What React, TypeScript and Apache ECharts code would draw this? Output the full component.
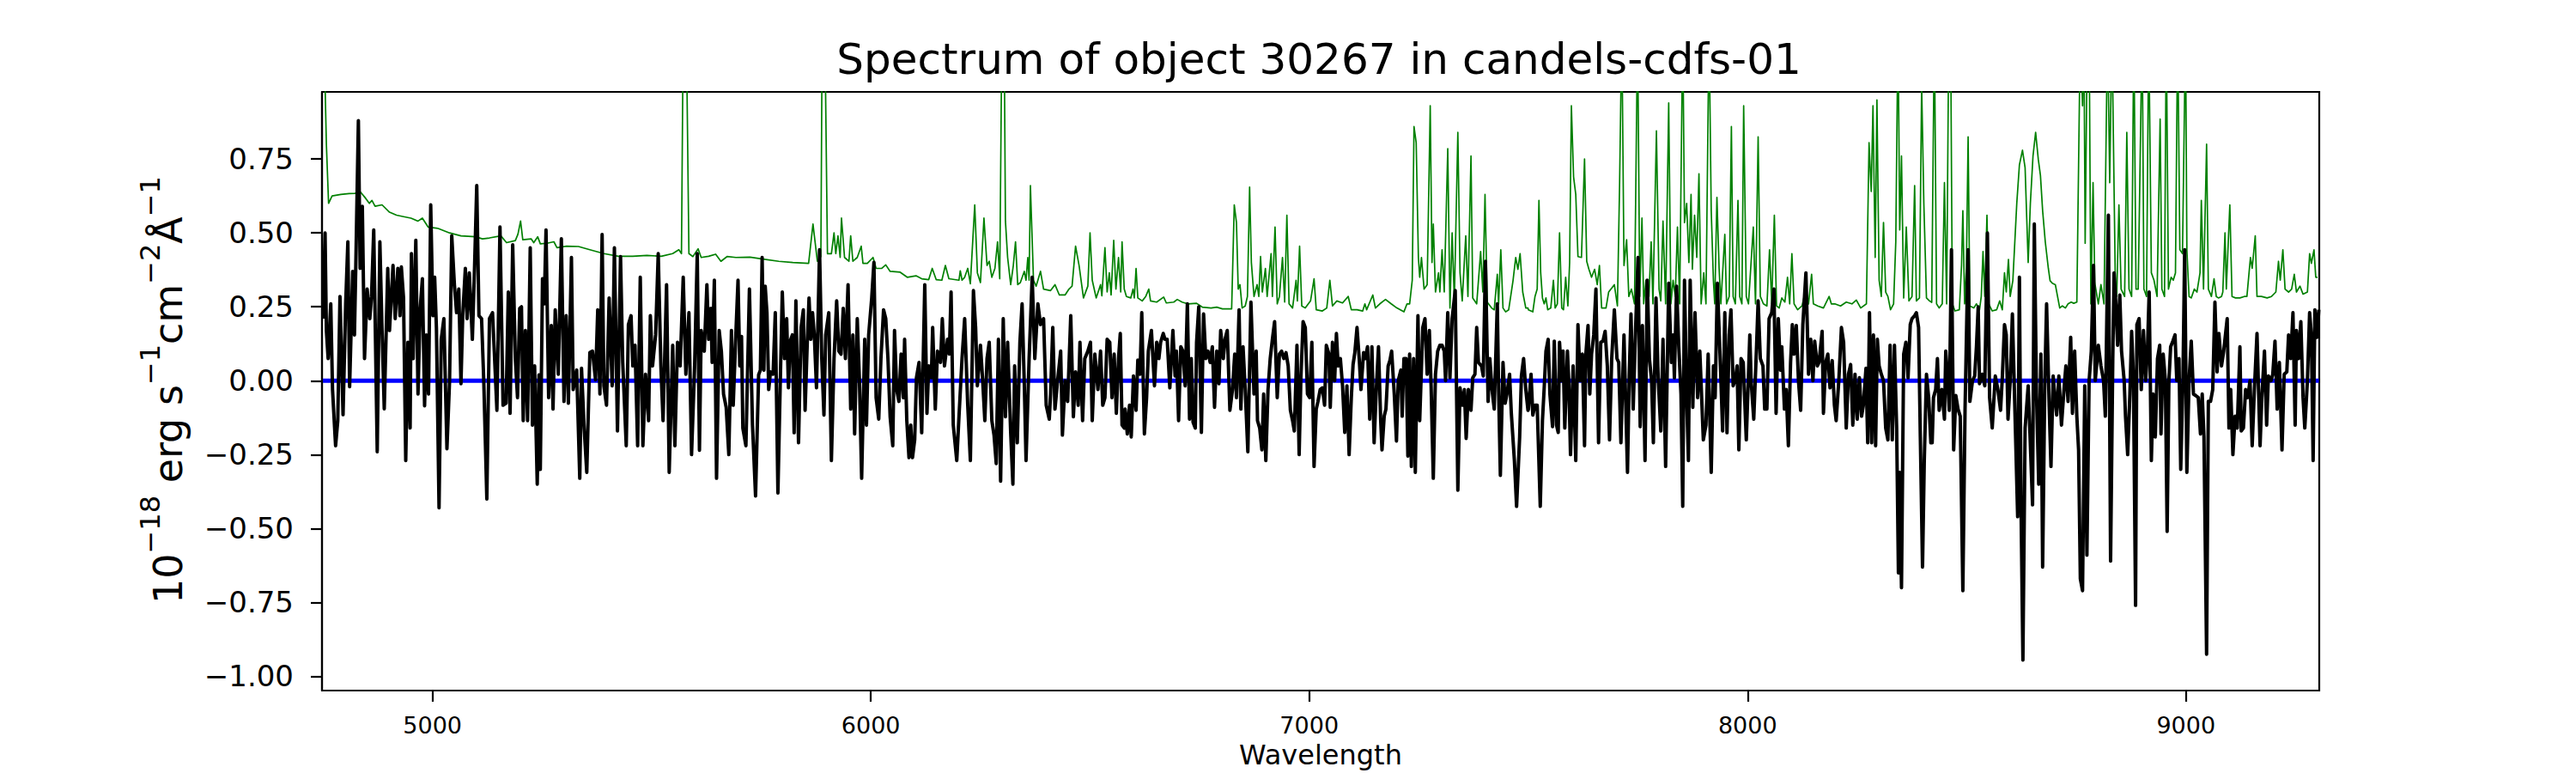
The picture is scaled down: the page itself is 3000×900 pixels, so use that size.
import React, { useEffect, useRef } from "react";
import * as echarts from "echarts";

const FONT = '"DejaVu Sans", "Liberation Sans", sans-serif';

const TITLE = "Spectrum of object 30267 in candels-cdfs-01";
const X_LABEL = "Wavelength";
const X_TICKS = [5000, 6000, 7000, 8000, 9000];
const Y_TICKS = [-1.0, -0.75, -0.5, -0.25, 0, 0.25, 0.5, 0.75];
const X_RANGE = [4748, 9304];
const Y_RANGE = [-1.048, 0.977];

// ---- flux (black), five wavelength chunks ----
const wave1 = [4750,4755,4758,4762,4768,4772,4779,4784,4789,4796,4802,4807,4811,4818,4822,4825,4831,4835,4840,4845,4851,4857,4861,4866,4874,4880,4885,4890,4898,4902,4910,4915,4921,4926,4929,4934,4939,4944,4949,4952,4956,4962,4967,4972,4977,4982,4986,4991,4996,5001,5005,5009,5015,5020,5026,5033,5039,5044,5050,5055,5060,5065,5069,5075,5079,5084,5091,5096,5101,5106,5112,5117,5124,5130,5137,5141,5147,5154,5161,5168,5173,5177,5183,5189,5194,5199,5203,5207,5212,5217,5223,5228,5233,5239,5243,5246,5251,5255,5259,5265,5271,5275,5280,5287,5294,5300,5305,5310,5317,5321,5329,5336,5340,5346,5352,5359,5365,5372,5377,5382,5387,5391,5397,5403,5410,5415,5422,5429,5434,5442,5447,5453,5457,5462,5468,5474,5480,5486,5493,5497,5502,5509,5515,5521,5526,5534,5540,5548,5553,5559,5565,5572,5578,5585,5591,5598,5604,5609,5613,5620,5626,5630,5635,5638,5643,5648,5654];
const flux1 = [0.21,0.50,0.17,0.075,0.26,-0.03,-0.22,-0.135,0.285,-0.115,0.26,0.47,-0.02,0.37,0.155,0.38,0.88,0.38,0.59,0.075,0.31,0.21,0.285,0.51,-0.24,0.47,0.17,-0.095,0.38,0.17,0.39,0.21,0.38,0.22,0.385,0.28,-0.27,0.13,-0.16,0.43,0.075,0.475,-0.045,0.245,0.345,-0.085,0.155,-0.045,0.595,0.22,0.35,0.18,-0.43,0.14,0.21,-0.23,0,0.49,0.325,0.23,0.31,-0.01,0.22,0.38,0.21,0.365,0.14,0.385,0.66,0.22,0.21,0,-0.40,0.21,0.23,0.10,-0.10,0.52,-0.083,-0.076,0.30,-0.11,0.46,0.075,-0.057,0.245,0.25,-0.135,0.17,-0.135,0.45,-0.15,0.05,-0.35,0.02,-0.30,0.345,0.26,0.51,-0.057,0.187,-0.096,0.24,0.022,0.48,-0.07,0.22,-0.076,0.417,-0.03,0.036,-0.33,0.042,-0.16,-0.31,0.095,0.10,0.003,0.24,-0.045,0.495,-0.017,-0.083,0.28,-0.017,0.45,-0.17,0.42,0.062,-0.22,0.19,0.22,0.05,0.12,-0.22,0.35,-0.22,0.022,-0.135,0.22,0.05,0.155,0.43,0.05,-0.135,0.325,-0.31,0.12,-0.22,0.13,0.05,0.35,0.022,0.23,-0.25,0.05,0.43,-0.235,0.17,0.10,0.325,0.14,0.245,0.062,0.34,-0.33,0.17];

const wave2 = [5659,5664,5670,5676,5682,5686,5692,5697,5701,5705,5708,5715,5723,5730,5737,5744,5748,5752,5756,5759,5763,5767,5771,5777,5782,5788,5793,5798,5803,5808,5812,5816,5821,5825,5829,5835,5841,5846,5850,5855,5859,5863,5867,5871,5876,5883,5888,5893,5897,5904,5910,5916,5922,5927,5932,5937,5942,5948,5954,5959,5963,5969,5974,5979,5986,5990,5995,6002,6007,6012,6018,6023,6029,6034,6039,6044,6050,6054,6059,6064,6069,6074,6077,6082,6087,6091,6095,6100,6104,6110,6116,6123,6128,6132,6138,6141,6147,6152,6159,6163,6168,6175,6179,6183,6188,6196,6201,6208,6214,6221,6227,6234,6239,6243,6250,6255,6260,6265,6270,6276,6281,6286,6291,6296,6302,6307,6312,6319,6324,6328,6334,6340,6345,6350,6354,6361,6368,6374,6381,6387,6394,6400,6407,6410,6415,6420,6426,6433,6437,6443,6449,6456,6462,6467,6473,6477,6483,6488,6495,6501,6505,6511,6518,6524,6529,6534,6539,6545,6550,6555,6560,6565,6569,6573,6578];
const flux2 = [0.10,-0.045,-0.09,-0.25,0.17,-0.083,0.155,0.34,0.05,0.15,-0.16,-0.22,0.31,-0.15,-0.39,0.02,0.036,0.417,0.036,0.32,0.23,-0.03,0.03,0.022,0.23,-0.38,-0.03,0.30,0.075,0.21,-0.024,0.134,0.155,-0.176,0.27,-0.21,0.18,0.24,-0.10,0.13,0.28,0.14,0.23,0.155,-0.024,0.443,0.075,-0.116,0.155,0.23,-0.27,0.075,0.27,0.10,0.09,0.245,0.075,0.325,-0.096,0.155,-0.18,0.21,0,-0.33,0.14,-0.15,0.155,0.28,0.40,-0.057,-0.13,0.075,0.24,0.21,0.075,-0.122,-0.22,0.17,-0.03,-0.07,0.09,-0.057,0.14,-0.135,-0.26,-0.15,-0.26,-0.20,0.01,0.062,-0.176,0.325,-0.11,0.05,0.01,0.18,-0.096,0.10,0.062,0.21,0.05,0.14,0.09,0.30,-0.15,-0.27,-0.122,0.075,0.21,-0.083,-0.27,0.305,0.18,-0.017,0.12,0.003,-0.135,0.075,0.13,-0.135,-0.184,-0.28,0.14,-0.34,0.21,-0.122,0.13,-0.176,-0.35,0.05,-0.21,0.13,0.26,-0.01,-0.27,0.075,0.35,0.075,0.26,0.19,0.21,-0.083,-0.13,-0.045,0.18,-0.096,0,0.10,-0.184,0,-0.07,0.22,-0.122,0.03,-0.083,0.13,-0.135,0.075,0.10,0.13,-0.135,0.09,-0.03,0.10,-0.083,-0.057,0.14,0.13,-0.057,0.09,-0.11,0.075,0.16,-0.15,-0.16];

const wave3 = [6580,6585,6590,6594,6599,6605,6609,6614,6618,6624,6629,6633,6640,6647,6652,6657,6661,6667,6671,6676,6682,6689,6694,6697,6702,6707,6712,6717,6722,6727,6731,6735,6740,6743,6748,6754,6759,6764,6769,6774,6779,6784,6789,6794,6798,6804,6808,6813,6819,6825,6830,6834,6840,6844,6849,6854,6860,6867,6874,6879,6882,6887,6892,6896,6901,6906,6911,6916,6921,6927,6932,6937,6942,6947,6952,6957,6962,6966,6972,6977,6981,6986,6991,6996,7001,7006,7011,7016,7020,7025,7030,7035,7039,7045,7048,7053,7058,7062,7066,7071,7076,7081,7086,7091,7096,7100,7104,7109,7114,7118,7124,7128,7133,7138,7143,7148,7153,7158,7163,7166,7171,7175,7180,7184,7188,7194,7199,7203,7209,7212,7216,7221,7225,7229,7233,7238,7242,7248,7252,7259,7264,7269,7274,7278,7283,7288,7293,7298,7303,7308,7311,7316,7321,7326,7333,7339,7344,7349,7354,7358,7363,7369,7373,7378,7382,7386,7393,7397,7402,7408,7412,7417,7422,7429,7432,7436,7442,7447,7451,7457,7461,7468,7473,7480,7484,7489,7494,7499];
const flux3 = [-0.096,-0.18,-0.083,-0.19,0.016,-0.10,0.07,0.022,0.23,-0.18,-0.057,0.10,0.17,-0.017,0.13,0.075,0.13,0.16,0.14,0.14,-0.024,0.17,0.016,0.10,-0.135,0.115,0.10,-0.017,0.26,-0.13,0.075,-0.14,-0.16,0.13,0.25,-0.175,0.226,0.075,0.10,0.062,0.115,-0.09,0.10,-0.01,0.17,0.075,0.14,0.17,-0.10,-0.03,0.09,-0.057,0.24,-0.096,0.115,-0.03,-0.24,0.266,-0.045,0.10,-0.135,-0.16,-0.234,-0.045,-0.27,-0.03,0.075,0.14,0.20,-0.057,0.09,0.10,0.075,0.095,0.05,-0.10,-0.135,-0.17,0.12,-0.25,0.01,0.20,0.18,-0.045,-0.057,0.13,-0.29,-0.096,-0.07,-0.03,-0.024,-0.083,0.12,0.09,-0.09,0.13,0,0.16,0.05,0.075,-0.017,-0.175,-0.017,-0.25,-0.057,0.055,0.095,0.18,0.075,-0.03,0.095,0.075,0.115,-0.13,0.115,-0.21,-0.03,0.115,-0.135,-0.234,-0.12,-0.096,0.05,0.068,0.10,-0.045,-0.204,0,0.036,-0.12,0.075,0.075,-0.255,0.09,-0.29,0.075,-0.31,0.22,-0.135,0.18,0.21,0.022,0.17,-0.017,-0.33,0.022,0.10,0.12,0.12,0.10,0,0.23,0.01,0.21,0.305,-0.37,-0.024,-0.083,-0.03,-0.195,-0.03,-0.10,0.01,0.022,0.18,0.062,0.05,0.016,0.404,-0.07,0.075,-0.03,-0.096,0.26,-0.03,-0.32,0.062,-0.076,-0.045,0.022,-0.11,-0.27,-0.425,-0.19,0.016,0.075,-0.03,-0.10];

const wave4 = [7500,7506,7510,7515,7520,7527,7532,7536,7540,7545,7549,7555,7559,7564,7568,7571,7576,7579,7583,7589,7592,7596,7602,7608,7613,7618,7623,7628,7631,7636,7640,7644,7649,7654,7660,7665,7670,7675,7680,7685,7690,7696,7702,7706,7711,7718,7726,7730,7734,7739,7744,7750,7755,7760,7766,7771,7776,7781,7785,7791,7796,7802,7807,7813,7820,7826,7830,7833,7838,7843,7848,7852,7856,7861,7865,7869,7875,7880,7886,7891,7899,7905,7910,7917,7922,7926,7931,7938,7943,7948,7953,7958,7962,7967,7972,7976,7980,7985,7990,7997,8005,8008,8014,8020,8024,8029,8035,8039,8044,8049,8055,8060,8065,8070,8075,8078,8084,8088,8093,8098,8102,8106,8111,8116,8121,8126,8133,8139,8144,8149,8153,8159,8163,8170,8173,8178,8183,8188,8193,8198,8202,8208,8214,8219,8225,8230,8235,8240,8245,8250,8255,8260,8264,8270,8274,8278,8283,8287,8292,8296,8300,8305,8310,8315,8320,8325,8330,8335,8340,8344,8347,8351,8356,8361,8366,8371,8375,8381,8385,8390,8394,8399,8403,8408,8413,8418];
const flux4 = [-0.096,0.022,-0.116,-0.083,-0.083,-0.425,-0.135,-0.024,0.10,0.14,-0.045,-0.155,0.134,-0.15,-0.175,0.13,0,0.10,-0.16,0.10,0,-0.25,0.05,-0.27,0.19,0,0.09,-0.22,0.09,0.187,-0.045,0.09,0.155,0.31,-0.21,0.13,0.134,0.167,0.05,-0.20,0.075,0.24,0.075,0.062,-0.21,0.155,-0.31,0.022,0.226,-0.096,0.155,0.417,-0.155,0.187,-0.27,0.34,0.075,0,-0.21,0.28,0.01,-0.17,0.14,-0.29,0.33,0.062,0.155,0.01,0.32,0.115,-0.045,-0.425,0.34,-0.057,-0.27,0.34,-0.09,0.23,-0.057,0.10,-0.20,-0.15,0.09,-0.31,0.05,-0.057,0.33,0.05,-0.17,0.23,-0.176,0.155,0.24,-0.017,0.003,0.05,-0.234,0.075,0.062,-0.20,0.155,0,-0.13,0.10,0.27,0.075,0.05,-0.096,-0.096,0.21,0.23,0.31,-0.11,0.21,0.036,0.115,-0.096,-0.03,-0.22,0.062,0.19,0.09,0.187,0,-0.10,0.19,0.365,0.022,0.14,0,0.134,0.05,0.062,0.167,-0.11,0.062,0.09,-0.024,0.068,-0.083,-0.135,0,0.18,0.13,-0.16,0.022,0.055,-0.15,0.022,-0.13,0.01,-0.12,-0.083,0.042,-0.21,0.23,-0.21,0.155,-0.22,0.14,0.05,0.022,0,-0.16,-0.20,0.12,-0.20,0.12,-0.16,-0.65,-0.31,-0.70,0.09,0.13,0.01,0.19,0.21,0.22,0.23,0.18,-0.19,-0.63,-0.27,0.022,-0.057,-0.21];

const wave5 = [8421,8424,8429,8433,8437,8443,8449,8452,8457,8460,8465,8470,8475,8480,8485,8491,8496,8503,8507,8513,8518,8522,8526,8529,8535,8541,8547,8552,8558,8565,8571,8577,8581,8586,8590,8594,8599,8604,8610,8616,8620,8624,8628,8633,8640,8644,8650,8654,8659,8664,8669,8673,8678,8682,8688,8692,8697,8701,8705,8710,8716,8722,8726,8731,8737,8741,8746,8751,8755,8759,8764,8769,8774,8779,8784,8789,8793,8800,8806,8812,8816,8823,8828,8833,8836,8840,8844,8849,8853,8859,8862,8867,8872,8876,8880,8885,8888,8893,8898,8903,8908,8912,8916,8921,8925,8930,8935,8940,8943,8948,8953,8957,8961,8965,8970,8975,8979,8984,8988,8993,8997,9002,9007,9012,9017,9022,9028,9033,9037,9041,9047,9051,9056,9061,9066,9071,9075,9081,9086,9094,9098,9102,9107,9112,9117,9123,9126,9131,9136,9141,9146,9151,9156,9162,9169,9173,9179,9184,9188,9194,9198,9203,9208,9213,9219,9224,9230,9234,9239,9244,9249,9252,9257,9262,9267,9271,9277,9282,9286,9290,9294,9299,9303];
const flux5 = [-0.21,-0.057,-0.03,0.075,-0.10,-0.03,-0.13,0.10,-0.017,-0.10,0.443,-0.234,-0.05,-0.096,-0.12,-0.71,-0.096,0.443,-0.07,0,0.016,0.115,0.25,-0.01,0.022,-0.017,0.50,-0.057,-0.16,0.016,-0.03,-0.10,0.01,0.19,0.155,-0.13,0,0.226,-0.116,-0.46,0.35,-0.46,-0.945,-0.16,-0.017,-0.176,-0.42,0.53,-0.045,-0.35,0.09,-0.63,0,0.26,-0.09,-0.29,0.016,-0.057,-0.116,0.016,-0.15,-0.024,0.05,-0.07,0.147,-0.11,0.10,-0.12,-0.234,-0.67,-0.71,-0.017,-0.59,0,0.10,0.39,0,0.12,0.05,0,-0.12,0.56,-0.61,0.075,0.365,0.26,0.12,0.29,0.10,0,-0.12,-0.25,-0.045,0.167,0.022,-0.76,0.19,0.21,-0.03,0.17,0,0.10,0.30,-0.27,-0.045,-0.19,0.075,0.12,-0.18,0.09,0,-0.51,0,0.115,0.134,0.155,0,0.075,-0.30,0,0.443,-0.31,0,0.134,-0.045,-0.05,-0.057,-0.18,-0.045,-0.19,-0.925,-0.07,-0.07,-0.03,0.266,0.03,0.16,0.05,0.10,0.21,-0.16,-0.03,-0.25,-0.12,-0.16,0.115,-0.17,-0.16,-0.03,-0.057,0,-0.22,-0.03,0.16,-0.22,-0.057,0.10,-0.15,0.016,0,0.022,0.134,-0.096,0.062,-0.234,0.022,0.03,0.155,0.075,0.23,-0.15,0.17,0.075,0.20,-0.057,-0.16,0,0.23,0.155,-0.27,0.24,0.147,0.24];

// ---- noise / error spectrum (green), [wavelength, value] ----
const noise1: [number, number][] = [[4750,1.10],[4755,1.0],[4758,0.80],[4763,0.60],[4771,0.625],[4791,0.63],[4810,0.633],[4823,0.634],[4836,0.638],[4846,0.62],[4856,0.60],[4862,0.61],[4869,0.59],[4885,0.595],[4902,0.57],[4918,0.56],[4934,0.555],[4951,0.55],[4967,0.54],[4977,0.55],[4990,0.52],[5013,0.515],[5039,0.50],[5065,0.49],[5098,0.487],[5114,0.48],[5130,0.483],[5156,0.49],[5169,0.467],[5189,0.474],[5195,0.496],[5201,0.54],[5206,0.477],[5225,0.48],[5231,0.467],[5240,0.487],[5246,0.463],[5261,0.465],[5277,0.47],[5284,0.45],[5306,0.455],[5333,0.454],[5359,0.443],[5391,0.43],[5424,0.421],[5457,0.421],[5489,0.424],[5522,0.421],[5548,0.43],[5562,0.443],[5568,0.43],[5572,1.2],[5579,1.2],[5585,0.43],[5594,0.42],[5606,0.446],[5613,0.417],[5630,0.421],[5646,0.428],[5658,0.404]];
const noise2: [number, number][] = [[5672,0.42],[5692,0.417],[5724,0.418],[5757,0.411],[5790,0.404],[5822,0.40],[5858,0.397],[5868,0.53],[5878,0.404],[5886,0.42],[5889,1.2],[5895,1.2],[5901,0.43],[5910,0.43],[5916,0.50],[5920,0.43],[5925,0.49],[5930,0.417],[5933,0.55],[5940,0.417],[5950,0.404],[5954,0.49],[5959,0.404],[5969,0.417],[5978,0.455],[5982,0.397],[5992,0.397],[6005,0.417],[6012,0.38],[6025,0.38],[6034,0.392],[6044,0.37],[6067,0.367],[6083,0.35],[6103,0.355],[6116,0.345],[6132,0.342],[6140,0.38],[6149,0.342],[6162,0.34],[6170,0.39],[6178,0.345],[6201,0.34],[6204,0.372],[6208,0.34],[6214,0.35],[6221,0.38],[6227,0.328],[6237,0.595],[6243,0.365],[6250,0.332],[6258,0.55],[6265,0.39],[6270,0.404],[6276,0.35],[6283,0.38],[6289,0.47],[6294,0.345],[6299,1.2],[6304,1.2],[6307,0.54],[6312,0.417],[6319,0.325],[6325,0.39],[6330,0.47],[6335,0.325],[6341,0.332],[6350,0.37],[6354,0.34],[6358,0.417],[6361,0.34],[6364,0.66],[6371,0.34],[6377,0.32],[6387,0.37],[6394,0.31],[6410,0.305],[6420,0.325],[6430,0.29],[6443,0.29],[6452,0.31],[6459,0.32],[6467,0.455],[6475,0.39],[6485,0.28],[6495,0.32],[6500,0.50],[6505,0.34],[6514,0.28],[6524,0.325],[6527,0.287],[6534,0.45],[6539,0.30],[6544,0.365],[6548,0.29],[6554,0.475],[6559,0.31],[6565,0.417],[6570,0.30],[6573,0.47],[6578,0.31]];
const noise3: [number, number][] = [[6583,0.285],[6593,0.28],[6598,0.31],[6601,0.28],[6605,0.38],[6609,0.28],[6619,0.27],[6627,0.285],[6634,0.31],[6638,0.27],[6652,0.266],[6668,0.283],[6674,0.263],[6691,0.266],[6699,0.275],[6710,0.266],[6723,0.26],[6743,0.262],[6756,0.249],[6776,0.246],[6789,0.249],[6802,0.243],[6823,0.243],[6829,0.595],[6834,0.535],[6838,0.31],[6842,0.325],[6847,0.246],[6854,0.253],[6859,0.285],[6864,0.655],[6868,0.40],[6874,0.285],[6881,0.325],[6885,0.285],[6889,0.42],[6893,0.30],[6900,0.38],[6904,0.285],[6913,0.43],[6916,0.285],[6922,0.52],[6927,0.26],[6932,0.285],[6939,0.417],[6944,0.266],[6949,0.56],[6954,0.26],[6962,0.246],[6970,0.34],[6973,0.27],[6978,0.455],[6983,0.253],[6991,0.246],[7003,0.27],[7011,0.345],[7016,0.24],[7030,0.236],[7040,0.246],[7047,0.34],[7053,0.253],[7063,0.27],[7076,0.263],[7089,0.285],[7096,0.24],[7109,0.24],[7122,0.236],[7127,0.26],[7131,0.24],[7145,0.29],[7151,0.246],[7161,0.26],[7174,0.275],[7187,0.26],[7200,0.246],[7216,0.233],[7223,0.26],[7229,0.26],[7235,0.34],[7239,0.86],[7244,0.805],[7249,0.417],[7252,0.35],[7256,0.417],[7262,0.31],[7269,0.325],[7276,0.93],[7280,0.40],[7283,0.53],[7288,0.30],[7295,0.365],[7298,0.30],[7303,0.443],[7308,0.30],[7316,0.785],[7321,0.246],[7326,0.50],[7331,0.27],[7339,0.84],[7344,0.365],[7349,0.27],[7357,0.49],[7362,0.285],[7369,0.76],[7373,0.28],[7382,0.26],[7391,0.437],[7396,0.30],[7401,0.63],[7406,0.266],[7416,0.246],[7422,0.24],[7429,0.36],[7432,0.26],[7437,0.443],[7442,0.246],[7448,0.233],[7455,0.24],[7465,0.34],[7471,0.417],[7476,0.377],[7481,0.43],[7487,0.30],[7494,0.246],[7499,0.246]];
const noise4: [number, number][] = [[7500,0.24],[7510,0.233],[7515,0.285],[7520,0.31],[7524,0.61],[7528,0.365],[7532,0.28],[7536,0.26],[7540,0.28],[7544,0.24],[7551,0.246],[7557,0.34],[7561,0.246],[7566,0.26],[7571,0.50],[7576,0.246],[7580,0.24],[7585,0.35],[7590,0.253],[7594,0.40],[7598,0.93],[7603,0.69],[7608,0.63],[7613,0.42],[7621,0.417],[7628,0.75],[7633,0.404],[7638,0.377],[7644,0.35],[7651,0.377],[7657,0.325],[7662,0.39],[7667,0.246],[7677,0.246],[7683,0.30],[7696,0.325],[7703,0.253],[7708,0.667],[7713,1.2],[7718,0.39],[7724,0.477],[7729,0.285],[7735,0.31],[7742,0.26],[7749,1.2],[7754,0.285],[7759,0.55],[7763,0.26],[7768,0.34],[7775,0.285],[7780,0.47],[7784,0.26],[7792,0.845],[7798,0.31],[7802,0.27],[7807,0.54],[7813,0.26],[7820,0.94],[7825,0.26],[7830,0.34],[7835,0.285],[7840,0.52],[7845,0.26],[7852,1.2],[7856,0.535],[7861,0.60],[7866,0.40],[7871,0.63],[7874,0.377],[7879,0.56],[7884,0.417],[7889,0.70],[7894,0.26],[7900,0.365],[7905,0.26],[7912,1.2],[7917,0.575],[7922,0.338],[7925,0.26],[7930,0.62],[7935,0.38],[7939,0.26],[7948,0.495],[7952,0.26],[7958,0.285],[7963,0.86],[7967,0.285],[7972,0.26],[7978,0.61],[7982,0.285],[7987,0.26],[7991,0.93],[7997,0.285],[8002,0.26],[8013,0.52],[8018,0.26],[8024,0.825],[8029,0.285],[8036,0.26],[8044,0.253],[8050,0.443],[8055,0.26],[8061,0.56],[8066,0.253],[8072,0.246],[8078,0.28],[8085,0.266],[8091,0.35],[8096,0.26],[8101,0.43],[8106,0.26],[8114,0.24],[8124,0.253],[8133,0.31],[8139,0.26],[8146,0.36],[8150,0.26],[8160,0.253],[8173,0.246],[8186,0.285],[8191,0.26],[8199,0.26],[8212,0.253],[8225,0.266],[8238,0.26],[8248,0.273],[8258,0.246],[8271,0.26],[8277,0.805],[8282,0.64],[8286,0.93],[8291,0.417],[8295,0.95],[8300,0.34],[8305,0.285],[8310,0.535],[8315,0.30],[8320,0.285],[8326,0.24],[8333,0.26],[8338,0.47],[8343,1.2],[8347,0.51],[8351,0.76],[8356,0.28],[8362,0.52],[8368,0.27],[8375,0.285],[8381,0.66],[8385,0.27],[8392,0.28],[8397,1.0],[8402,0.60],[8408,0.28],[8415,0.27],[8420,0.265]];
const noise5: [number, number][] = [[8426,1.2],[8431,0.26],[8437,0.246],[8444,0.26],[8449,0.67],[8454,0.26],[8459,1.2],[8463,1.2],[8467,0.26],[8473,0.236],[8483,0.24],[8488,0.39],[8491,0.575],[8495,0.26],[8499,0.38],[8503,0.825],[8507,0.253],[8516,0.246],[8522,0.26],[8529,0.24],[8533,0.285],[8537,0.437],[8541,0.285],[8546,0.56],[8550,0.26],[8558,0.236],[8568,0.24],[8575,0.27],[8581,0.24],[8586,0.365],[8590,0.30],[8595,0.41],[8599,0.285],[8605,0.338],[8614,0.60],[8620,0.73],[8627,0.78],[8633,0.72],[8640,0.40],[8645,0.60],[8651,0.76],[8657,0.84],[8663,0.75],[8668,0.694],[8673,0.575],[8679,0.47],[8686,0.38],[8690,0.338],[8695,0.33],[8702,0.325],[8707,0.285],[8712,0.246],[8718,0.253],[8725,0.246],[8731,0.26],[8738,0.266],[8744,0.262],[8751,0.266],[8755,0.73],[8759,1.2],[8764,0.93],[8767,1.2],[8770,0.465],[8775,1.2],[8779,1.2],[8783,0.26],[8788,0.67],[8792,0.33],[8800,0.26],[8806,0.325],[8813,0.26],[8821,1.2],[8826,0.67],[8831,1.2],[8839,0.31],[8842,0.285],[8847,0.595],[8852,0.31],[8860,0.285],[8865,0.84],[8870,0.31],[8876,0.285],[8881,1.2],[8886,0.31],[8891,0.31],[8900,1.2],[8904,0.31],[8910,0.285],[8915,1.2],[8921,0.365],[8927,0.34],[8934,0.285],[8941,0.885],[8945,0.31],[8951,0.285],[8955,1.2],[8960,0.31],[8966,0.35],[8971,0.34],[8976,0.365],[8981,1.2],[8986,0.443],[8992,0.43],[8999,1.2],[9002,0.443],[9007,0.285],[9012,0.28],[9019,0.31],[9025,0.30],[9032,0.365],[9035,0.61],[9040,0.31],[9047,0.80],[9051,0.31],[9058,0.285],[9064,0.345],[9069,0.285],[9074,0.28],[9081,0.285],[9084,0.30],[9089,0.50],[9092,0.31],[9100,0.595],[9105,0.285],[9113,0.28],[9123,0.28],[9133,0.285],[9139,0.285],[9147,0.417],[9151,0.38],[9158,0.49],[9162,0.285],[9172,0.285],[9185,0.28],[9195,0.285],[9205,0.30],[9211,0.404],[9215,0.34],[9221,0.443],[9226,0.31],[9234,0.30],[9241,0.31],[9247,0.36],[9252,0.30],[9260,0.32],[9267,0.293],[9277,0.30],[9282,0.43],[9286,0.397],[9292,0.443],[9296,0.35],[9300,0.35]];

function zip(w: number[], f: number[]): [number, number][] {
  const n = Math.min(w.length, f.length);
  const out: [number, number][] = [];
  for (let i = 0; i < n; i++) out.push([w[i], f[i]]);
  return out;
}

const fmtY = (v: number) => (v < 0 ? "\u2212" : "") + Math.abs(v).toFixed(2);

export default function App() {
  const ref = useRef<HTMLDivElement>(null);

  useEffect(() => {
    if (!ref.current) return;
    const chart = echarts.init(ref.current, null, { renderer: "svg", width: 3000, height: 900 });

    const fluxData = [
      ...zip(wave1, flux1),
      ...zip(wave2, flux2),
      ...zip(wave3, flux3),
      ...zip(wave4, flux4),
      ...zip(wave5, flux5),
    ];
    const noiseData = [...noise1, ...noise2, ...noise3, ...noise4, ...noise5];
    const zeroData: [number, number][] = [
      [wave1[0], 0],
      [wave5[wave5.length - 1], 0],
    ];

    const option: any = {
      animation: false,
      backgroundColor: "#ffffff",
      textStyle: { fontFamily: FONT },
      grid: {
        left: 375,
        right: 299,
        top: 107,
        bottom: 96,
        show: true,
        borderColor: "#000",
        borderWidth: 2.2,
        backgroundColor: "transparent",
      },
      xAxis: {
        type: "value",
        min: X_RANGE[0],
        max: X_RANGE[1],
        name: X_LABEL,
        nameLocation: "middle",
        nameGap: 58,
        nameTextStyle: { fontFamily: FONT, fontSize: 32, color: "#000", lineHeight: 32 },
        axisLine: { show: true, onZero: false, lineStyle: { color: "#000", width: 2.2 } },
        axisTick: { show: true, inside: false, length: 13, customValues: X_TICKS, lineStyle: { color: "#000", width: 2.2 } },
        axisLabel: {
          show: true,
          customValues: X_TICKS,
          margin: 27,
          fontFamily: FONT,
          fontSize: 27,
          color: "#000",
          formatter: (v: number) => String(v),
        },
        splitLine: { show: false },
      },
      yAxis: {
        type: "value",
        min: Y_RANGE[0],
        max: Y_RANGE[1],
        axisLine: { show: true, onZero: false, lineStyle: { color: "#000", width: 2.2 } },
        axisTick: { show: true, inside: false, length: 13, customValues: Y_TICKS, lineStyle: { color: "#000", width: 2.2 } },
        axisLabel: {
          show: true,
          customValues: Y_TICKS,
          margin: 33,
          fontFamily: FONT,
          fontSize: 34,
          color: "#000",
          formatter: fmtY,
        },
        splitLine: { show: false },
      },
      graphic: [
        {
          type: "text",
          x: 1536,
          y: 69,
          silent: true,
          style: {
            text: TITLE,
            align: "center",
            verticalAlign: "middle",
            fill: "#000",
            fontFamily: FONT,
            fontSize: 50,
          },
        },
        {
          type: "text",
          x: 189,
          y: 454,
          rotation: Math.PI / 2,
          silent: true,
          style: {
            text: "{b|10}{s|\u221218}{b| erg s}{s|\u22121}{b|cm}{s|\u22122}{b|\u00c5}{s|\u22121}",
            align: "center",
            verticalAlign: "middle",
            fill: "#000",
            fontFamily: FONT,
            rich: {
              b: { fontFamily: FONT, fontSize: 46, lineHeight: 60, verticalAlign: "bottom", fill: "#000" },
              s: { fontFamily: FONT, fontSize: 32, lineHeight: 32, verticalAlign: "top", fill: "#000" },
            },
          },
        },
      ],
      series: [
        {
          name: "noise",
          type: "line",
          data: noiseData,
          showSymbol: false,
          symbol: "none",
          clip: true,
          z: 1,
          lineStyle: { color: "#008000", width: 1.7, join: "round" },
        },
        {
          name: "zero",
          type: "line",
          data: zeroData,
          showSymbol: false,
          symbol: "none",
          clip: true,
          z: 2,
          lineStyle: { color: "#0000ff", width: 5 },
        },
        {
          name: "flux",
          type: "line",
          data: fluxData,
          showSymbol: false,
          symbol: "none",
          clip: true,
          z: 3,
          lineStyle: { color: "#000000", width: 4, join: "round" },
        },
      ],
    };

    chart.setOption(option);
    return () => {
      chart.dispose();
    };
  }, []);

  return (
    <div
      ref={ref}
      style={{ position: "absolute", left: 0, top: 0, width: 3000, height: 900, background: "#fff" }}
    />
  );
}
